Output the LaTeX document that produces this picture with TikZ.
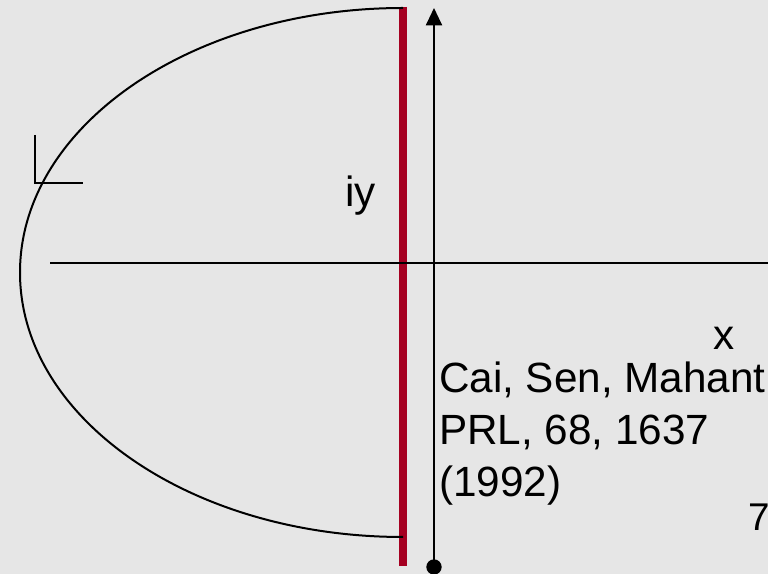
\documentclass[tikz,border=0pt]{standalone}
\usepackage{fontspec}
\setmainfont{Liberation Sans}
\usetikzlibrary{arrows.meta}
\definecolor{bggray}{RGB}{230,230,230}
\definecolor{wallred}{RGB}{165,0,33}
\begin{document}
\begin{tikzpicture}[x=0.75pt,y=0.75pt,line width=1.5pt,lbl/.style={inner sep=0pt,font=\fontsize{31.7}{39}\selectfont},dot/.style={circle,fill=black,inner sep=0pt,minimum size=11.5pt}]
\fill[bggray] (0,0) rectangle (768,574); \useasboundingbox (0,0) rectangle (768,574);
% contour and cut
\coordinate (Tc) at (403,567); \coordinate (Bc) at (403,8);
\draw[wallred,line width=6pt] (Tc) -- (Bc);
\draw (403,566) arc[start angle=90,end angle=270,x radius=383,y radius=264.5];
\draw (35,439) |- (83,391);
% axes
\node[dot] (O) at (434,7) {}; \coordinate (Yt) at (434,566);
\draw[-{Triangle[length=13pt,width=12pt]}] (O.center) -- (Yt);
\coordinate (Xl) at (50,311); \coordinate (Xr) at (768,311); \draw (Xl) -- (Xr);
% labels
\node[lbl,anchor=base west] (iy) at (344,367) {iy};
\node[lbl,anchor=base west] (xl) at (712,224) {x};
\node[lbl,anchor=north west,align=left] (ref) at (438,213) {Cai, Sen, Mahant\\PRL, 68, 1637\\(1992)};
\node[inner sep=0pt,anchor=base west,font=\fontsize{29}{35}\selectfont] (pg) at (747,43) {7};
\end{tikzpicture}
\end{document}
